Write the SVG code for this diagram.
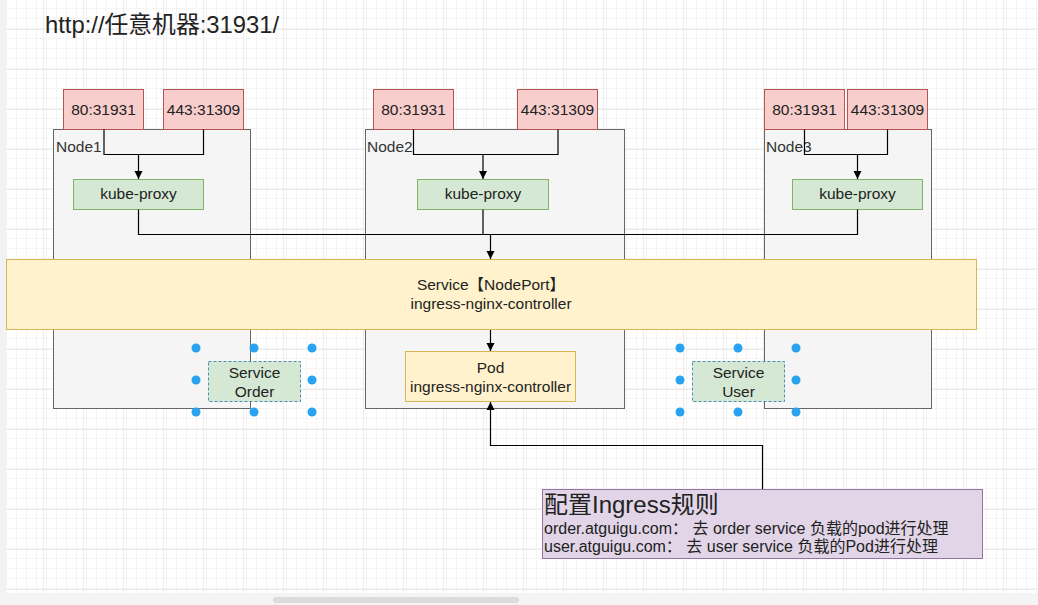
<svg xmlns="http://www.w3.org/2000/svg" width="1038" height="605" viewBox="0 0 1038 605">
<defs>
<pattern id="minor" x="3" y="29" width="10" height="10" patternUnits="userSpaceOnUse">
<path d="M0 0.5H10M0.5 0V10" fill="none" stroke="#f4f4f4" stroke-width="1"/>
</pattern>
<pattern id="major" x="3" y="29" width="40" height="40" patternUnits="userSpaceOnUse">
<rect width="40" height="40" fill="url(#minor)"/>
<path d="M0 0.5H40M0.5 0V40" fill="none" stroke="#ebebeb" stroke-width="1"/>
</pattern>
<marker id="arr" markerWidth="10" markerHeight="10" refX="9" refY="5" orient="auto" markerUnits="userSpaceOnUse">
<path d="M1 1L9 5L1 9Z" fill="#000"/>
</marker>
<style>
text{font-family:"Liberation Sans","Noto Sans CJK SC",sans-serif;fill:#222;}
.c{text-anchor:middle;font-size:15.5px;}
.node{fill:#f5f5f5;stroke:#666;stroke-width:1;}
.port{fill:#f8cecc;stroke:#b85450;stroke-width:1;}
.kp{fill:#d5e8d4;stroke:#82b366;stroke-width:1;}
.svc{fill:#fff2cc;stroke:#d6b656;stroke-width:1;}
.sel{fill:#d5e8d4;stroke:#4a8fb0;stroke-width:1;stroke-dasharray:3 2;}
.lbl{font-size:15.5px;fill:#333;}
.ln{fill:none;stroke:#000;stroke-width:1.2;}
.h{fill:#29a3f0;}
</style>
</defs>
<rect width="1038" height="605" fill="#fff"/>
<rect x="6" y="0" width="1032" height="593" fill="url(#major)"/>
<rect x="0" y="0" width="6" height="593" fill="#f2f2f2"/>
<rect x="0" y="593" width="1038" height="12" fill="#f4f4f4"/>
<rect x="273" y="597" width="246" height="6" rx="3" fill="#dcdcdc"/>

<text id="title" x="45" y="33" style="font-size:23.8px;">http://任意机器:31931/</text>

<g id="node1">
<rect class="node" x="53.5" y="129.5" width="197" height="279"/>
<text class="lbl" x="56" y="152">Node1</text>
</g>
<g id="node2">
<rect class="node" x="365.5" y="129.5" width="259" height="279"/>
<text class="lbl" x="367" y="152">Node2</text>
</g>
<g id="node3">
<rect class="node" x="764.5" y="129.5" width="167" height="279"/>
<text class="lbl" x="766" y="152">Node3</text>
</g>

<g id="n1p80"><rect class="port" x="63.5" y="89.5" width="80" height="40"/><text class="c" x="103.5" y="115">80:31931</text></g>
<g id="n1p443"><rect class="port" x="163.5" y="89.5" width="80" height="40"/><text class="c" x="203.5" y="115">443:31309</text></g>
<g id="n2p80"><rect class="port" x="373.5" y="89.5" width="80" height="40"/><text class="c" x="413.5" y="115">80:31931</text></g>
<g id="n2p443"><rect class="port" x="517.5" y="89.5" width="80" height="40"/><text class="c" x="557.5" y="115">443:31309</text></g>
<g id="n3p80"><rect class="port" x="764.5" y="89.5" width="80" height="40"/><text class="c" x="804.5" y="115">80:31931</text></g>
<g id="n3p443"><rect class="port" x="847.5" y="89.5" width="80" height="40"/><text class="c" x="887.5" y="115">443:31309</text></g>

<g id="kp1"><rect class="kp" x="73.5" y="179.5" width="130" height="30"/><text class="c" x="138.5" y="199">kube-proxy</text></g>
<g id="kp2"><rect class="kp" x="417.5" y="179.5" width="131" height="30"/><text class="c" x="483" y="199">kube-proxy</text></g>
<g id="kp3"><rect class="kp" x="792.5" y="179.5" width="130" height="30"/><text class="c" x="857.5" y="199">kube-proxy</text></g>

<g id="connectors">
<path class="ln" d="M104 129.5V154.5H203.5V129.5"/>
<path class="ln" d="M138.5 154.5V179" marker-end="url(#arr)"/>
<path class="ln" d="M413.5 129.5V154.5H558V129.5"/>
<path class="ln" d="M483 154.5V179" marker-end="url(#arr)"/>
<path class="ln" d="M804.5 129.5V154.5H887.5V129.5"/>
<path class="ln" d="M857.5 154.5V179" marker-end="url(#arr)"/>
<path class="ln" d="M138.5 209.5V234.5H857.5V209.5"/>
<path class="ln" d="M483 209.5V234.5"/>
<path class="ln" d="M490.5 234.5V259" marker-end="url(#arr)"/>
<path class="ln" d="M490.5 329.5V351" marker-end="url(#arr)"/>
<path class="ln" d="M762.5 489V445.5H490.5V402" marker-end="url(#arr)"/>
</g>

<g id="service">
<rect class="svc" x="6.5" y="259.5" width="970" height="70"/>
<text class="c" x="491" y="290">Service【NodePort】</text>
<text class="c" x="491" y="309">ingress-nginx-controller</text>
</g>

<g id="pod">
<rect class="svc" x="405.5" y="351.5" width="170" height="50"/>
<text class="c" x="490.5" y="373">Pod</text>
<text class="c" x="490.5" y="392">ingress-nginx-controller</text>
</g>

<g id="serviceOrder">
<rect class="sel" x="208.5" y="361.5" width="92" height="40"/>
<text class="c" x="254.5" y="378">Service</text>
<text class="c" x="254.5" y="397">Order</text>
<circle class="h" cx="196" cy="348" r="4.5"/><circle class="h" cx="254" cy="348" r="4.5"/><circle class="h" cx="312" cy="348" r="4.5"/>
<circle class="h" cx="196" cy="380" r="4.5"/><circle class="h" cx="312" cy="380" r="4.5"/>
<circle class="h" cx="196" cy="412" r="4.5"/><circle class="h" cx="254" cy="412" r="4.5"/><circle class="h" cx="312" cy="412" r="4.5"/>
</g>

<g id="serviceUser">
<rect class="sel" x="692.5" y="361.5" width="92" height="40"/>
<text class="c" x="738.5" y="378">Service</text>
<text class="c" x="738.5" y="397">User</text>
<circle class="h" cx="680" cy="348" r="4.5"/><circle class="h" cx="738" cy="348" r="4.5"/><circle class="h" cx="796" cy="348" r="4.5"/>
<circle class="h" cx="680" cy="380" r="4.5"/><circle class="h" cx="796" cy="380" r="4.5"/>
<circle class="h" cx="680" cy="412" r="4.5"/><circle class="h" cx="738" cy="412" r="4.5"/><circle class="h" cx="796" cy="412" r="4.5"/>
</g>

<g id="ingressRules">
<rect x="542.5" y="489.5" width="440" height="69" fill="#e1d5e7" stroke="#9673a6" stroke-width="1"/>
<text x="544" y="513" style="font-size:24px;">配置Ingress规则</text>
<text x="544" y="534" style="font-size:16px;">order.atguigu.com：  去 order service 负载的pod进行处理</text>
<text x="544" y="552" style="font-size:16px;">user.atguigu.com：  去 user service 负载的Pod进行处理</text>
</g>
</svg>
